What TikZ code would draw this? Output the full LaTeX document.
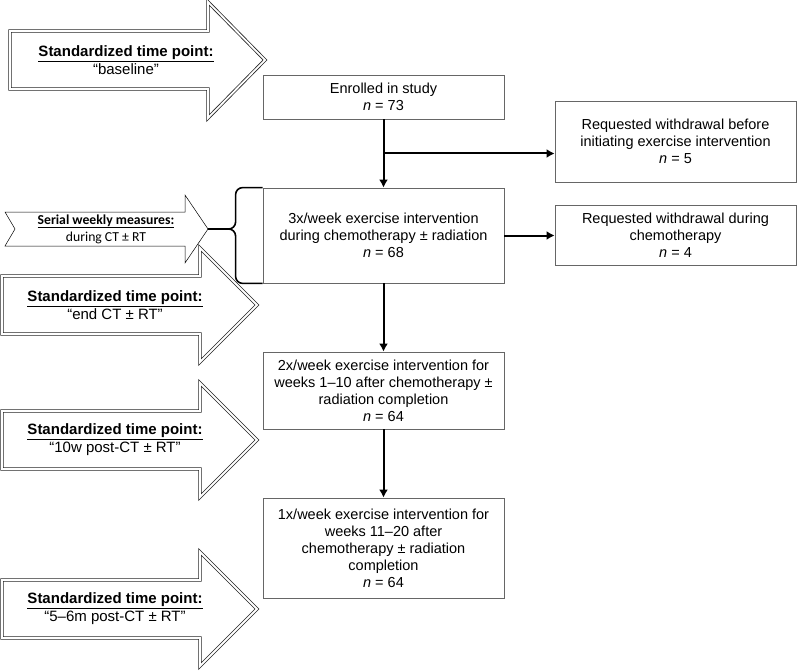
\documentclass[tikz,border=0pt]{standalone}
\usepackage{fontspec}
\setmainfont{Liberation Sans}
\newfontfamily\calibrifont{Carlito}
\usetikzlibrary{arrows.meta,calc}

\tikzset{
  box/.style={draw=black!60, line width=0.8pt, minimum width=241pt, inner sep=0pt,
    align=center, font=\fontsize{14.5}{17}\selectfont},
  timearrow/.style={draw=black!85, line width=0.8pt, double=white, double distance=1.8pt, fill=white},
  tptext/.style={align=center, inner sep=0pt, font=\fontsize{15}{18}\selectfont},
  serialtext/.style={align=center, inner sep=0pt, font=\calibrifont\fontsize{13.7}{17}\selectfont},
  flow/.style={->, line width=2pt},
}

\begin{document}
\begin{tikzpicture}[x=1pt, y=-1pt, >={Latex[length=8pt,width=9pt]}]
  \useasboundingbox (0,0) rectangle (800,671);

  % serial measures during treatment
  \draw[black, line width=0.5pt, fill=white] (5,212) -- (185,212) -- (185,195) -- (208,229)
    -- (185,263) -- (185,246) -- (5,246) -- (15,229) -- cycle;
  \coordinate (serialtip) at (208,229);
  \node[serialtext] (tSerial) at (106,229) {\underline{\textbf{Serial weekly measures:}}\\during CT ± RT};

  % standardized time points
  \draw[timearrow] (10,31) -- (208,31) -- (208,2) -- (265,60) -- (208,118) -- (208,89) -- (10,89) -- cycle;
  \node[tptext] (tBase) at (126,60) {\underline{\textbf{Standardized time point:}}\\“baseline”};
  \foreach \c/\name/\txt in {305/tEnd/{“end CT ± RT”}, 440/tTen/{“10w post-CT ± RT”}, 609/tSix/{“5–6m post-CT ± RT”}} {
    \draw[timearrow] (2,\c-29) -- (200,\c-29) -- (200,\c-57) -- (257,\c) -- (200,\c+57)
      -- (200,\c+29) -- (2,\c+29) -- cycle;
    \node[tptext] (\name) at (115,\c) {\underline{\textbf{Standardized time point:}}\\\txt};
  }

  % flow boxes
  \node[box, minimum height=44pt] (enrol) at (383.5,97) {Enrolled in study\\\textit{n} = 73};
  \node[box, minimum height=81pt] (wdA) at (675.5,141.5) {Requested withdrawal before\\initiating exercise intervention\\\textit{n} = 5};
  \node[box, minimum height=95pt] (exA) at (383.5,235.5) {3x/week exercise intervention\\during chemotherapy ± radiation\\\textit{n} = 68};
  \node[box, minimum height=60pt] (wdB) at (675.5,235) {Requested withdrawal during\\chemotherapy\\\textit{n} = 4};
  \node[box, minimum height=77pt] (exB) at (383.5,390.5) {2x/week exercise intervention for\\weeks 1–10 after chemotherapy ±\\radiation completion\\\textit{n} = 64};
  \node[box, minimum height=100pt] (exC) at (383.5,548) {1x/week exercise intervention for\\weeks 11–20 after\\chemotherapy ± radiation\\completion\\\textit{n} = 64};

  % connectors
  \coordinate (split) at ($(enrol.south)!0.5!(exA.north)$);
  \draw[flow] (enrol.south) -- (exA.north);
  \draw[flow] (split) -- (split -| wdA.west);
  \draw[flow] (exA.east) -- (exA.east -| wdB.west);
  \draw[flow] (exA.south) -- (exB.north);
  \draw[flow] (exB.south) -- (exC.north);

  % brace
  \draw[line width=1.6pt, rounded corners=7pt] (exA.north west) -- ++(-27,0) |- (serialtip);
  \draw[line width=1.6pt, rounded corners=7pt] (exA.south west) -- ++(-27,0) |- (serialtip);
\end{tikzpicture}
\end{document}
